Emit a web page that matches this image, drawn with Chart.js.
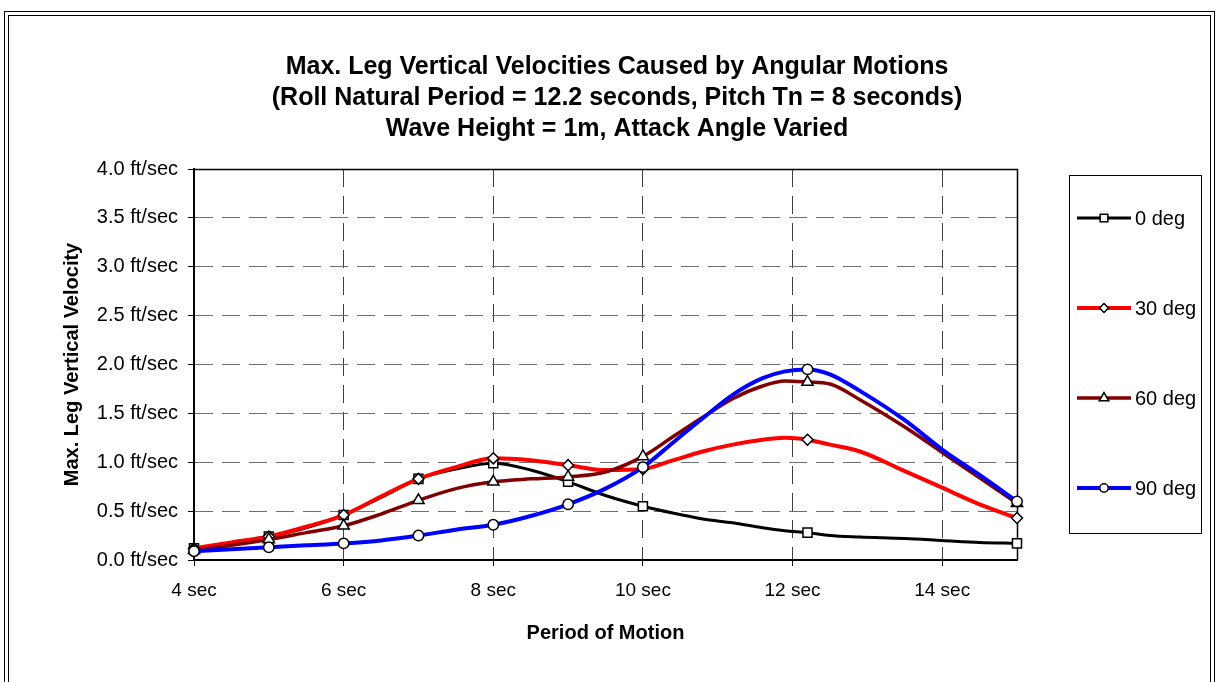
<!DOCTYPE html>
<html>
<head>
<meta charset="utf-8">
<title>Max. Leg Vertical Velocities</title>
<script src="https://cdn.jsdelivr.net/npm/chart.js@4.4.1/dist/chart.umd.min.js"></script>
<style>
  html, body { margin: 0; padding: 0; background: #fff; }
  #wrap { width: 1217px; height: 682px; }
</style>
</head>
<body>
<div id="wrap"><canvas id="velChart" width="1217" height="682"></canvas></div>
<script>
// Period of motion (sec) for every computed point, and the periods that carry a marker
const periods = [4, 4.5, 5, 5.5, 6, 6.5, 7, 7.5, 8, 8.5, 9, 9.5, 10, 10.4, 10.8, 11.2, 11.6, 11.9, 12.2, 12.5, 12.9, 13.5, 14, 14.5, 15];
const markerPeriods = [4, 5, 6, 7, 8, 9, 10, 12.2, 15];

const seriesNames = ['0 deg', '30 deg', '60 deg', '90 deg'];

// Max. leg vertical velocity (ft/sec) per attack angle
const vel0  = [0.12, 0.17, 0.24, 0.33, 0.46, 0.64, 0.83, 0.93, 0.99, 0.92, 0.80, 0.66, 0.55, 0.48, 0.42, 0.38, 0.33, 0.30, 0.28, 0.25, 0.235, 0.22, 0.20, 0.18, 0.17];
const vel30 = [0.12, 0.18, 0.24, 0.34, 0.46, 0.65, 0.83, 0.95, 1.04, 1.02, 0.97, 0.92, 0.93, 1.02, 1.11, 1.18, 1.23, 1.25, 1.23, 1.18, 1.11, 0.91, 0.74, 0.57, 0.43];
const vel60 = [0.10, 0.15, 0.21, 0.28, 0.35, 0.47, 0.61, 0.73, 0.80, 0.83, 0.85, 0.90, 1.06, 1.26, 1.46, 1.65, 1.78, 1.83, 1.82, 1.80, 1.64, 1.36, 1.10, 0.84, 0.58];
const vel90 = [0.09, 0.11, 0.13, 0.15, 0.17, 0.20, 0.25, 0.31, 0.36, 0.45, 0.57, 0.73, 0.95, 1.20, 1.45, 1.69, 1.86, 1.93, 1.95, 1.90, 1.73, 1.43, 1.13, 0.87, 0.60];

const yTicks = [0, 0.5, 1, 1.5, 2, 2.5, 3, 3.5, 4];

const titleLines = [
  'Max. Leg Vertical Velocities Caused by Angular Motions',
  '(Roll Natural Period = 12.2 seconds, Pitch Tn = 8 seconds)',
  'Wave Height = 1m, Attack Angle Varied'
];

const FONT = "'Liberation Sans', Arial, Helvetica, sans-serif";
Chart.defaults.font.family = FONT;
Chart.defaults.color = '#000';

const seriesStyle = [
  { color: '#000000', width: 3,   marker: 'rect',     radius: 6.4 },
  { color: '#ff0000', width: 4,   marker: 'rectRot',  radius: 5.5 },
  { color: '#800000', width: 3.5, marker: 'triangle', radius: 6.5 },
  { color: '#0000ff', width: 4,   marker: 'circle',   radius: 5.2 }
];

function makeDataset(name, values, idx) {
  const st = seriesStyle[idx];
  return {
    label: name,
    data: periods.map((p, i) => ({ x: p, y: values[i] })),
    borderColor: st.color,
    borderWidth: st.width,
    backgroundColor: '#fff',
    pointStyle: st.marker,
    pointBackgroundColor: '#fff',
    pointBorderColor: '#000',
    pointBorderWidth: 1.5,
    pointRadius: (ctx) => (ctx.raw && markerPeriods.includes(ctx.raw.x)) ? st.radius : 0,
    pointHoverRadius: 0,
    cubicInterpolationMode: 'monotone',
    clip: false,
    order: 4 - idx   // later angles are painted on top
  };
}

const datasets = [vel0, vel30, vel60, vel90].map((v, i) => makeDataset(seriesNames[i], v, i));

// white background, double outer frame, the title and the top/right edge of the plot area
const framePlugin = {
  id: 'frame',
  beforeDraw(chart) {
    const ctx = chart.ctx;
    ctx.save();
    ctx.fillStyle = '#fff';
    ctx.fillRect(0, 0, chart.width, chart.height);
    ctx.strokeStyle = '#000';
    ctx.lineWidth = 1;
    ctx.strokeRect(4.5, 11.5, 1210, 700);
    ctx.strokeRect(8.5, 15.5, 1202, 700);

    // title is centred on the whole chart, not on the plot area
    ctx.fillStyle = '#000';
    ctx.font = 'bold 25px ' + FONT;
    ctx.textAlign = 'center';
    ctx.textBaseline = 'middle';
    titleLines.forEach((line, i) => ctx.fillText(line, 617, 67 + i * 31));
    ctx.restore();
  },
  beforeDatasetsDraw(chart) {
    const { ctx, chartArea: a } = chart;
    ctx.save();
    ctx.strokeStyle = '#000';
    ctx.lineWidth = 1.5;
    ctx.beginPath();
    ctx.moveTo(a.left, a.top + 0.5);
    ctx.lineTo(a.right + 0.5, a.top + 0.5);
    ctx.lineTo(a.right + 0.5, a.bottom);
    ctx.stroke();
    ctx.restore();
  }
};

// boxed legend on the right: line sample with marker, then the label
const legendPlugin = {
  id: 'boxLegend',
  afterDraw(chart) {
    const ctx = chart.ctx;
    const box = { left: 1069.5, top: 175.5, right: 1201.5, bottom: 533.5 };
    const rowY = [218, 308, 398, 488];
    ctx.save();
    ctx.strokeStyle = '#000';
    ctx.lineWidth = 1;
    ctx.strokeRect(box.left, box.top, box.right - box.left, box.bottom - box.top);
    chart.data.datasets.forEach((ds, i) => {
      const st = seriesStyle[i];
      const y = rowY[i];
      ctx.strokeStyle = st.color;
      ctx.lineWidth = st.width;
      ctx.beginPath();
      ctx.moveTo(1077, y);
      ctx.lineTo(1131, y);
      ctx.stroke();
      ctx.fillStyle = '#fff';
      ctx.strokeStyle = '#000';
      ctx.lineWidth = 1.5;
      Chart.helpers.drawPoint(ctx, { pointStyle: st.marker, radius: st.radius - 1, rotation: 0, borderWidth: 1.5 }, 1104, y);
      ctx.fillStyle = '#000';
      ctx.font = '20px ' + FONT;
      ctx.textAlign = 'left';
      ctx.textBaseline = 'middle';
      ctx.fillText(ds.label, 1135, y + 1);
    });
    ctx.restore();
  }
};

new Chart(document.getElementById('velChart'), {
  type: 'line',
  data: { datasets },
  options: {
    responsive: false,
    animation: false,
    events: [],
    layout: { padding: { left: 0, right: 200, top: 169, bottom: 0 } },
    plugins: {
      legend: { display: false },
      tooltip: { enabled: false },
      title: { display: false }
    },
    scales: {
      x: {
        type: 'linear',
        min: 4,
        max: 15,
        afterFit: (scale) => { scale.height = 122; },
        ticks: {
          stepSize: 2,
          includeBounds: false,
          padding: 13,
          maxRotation: 0,
          font: { size: 19 },
          color: '#000',
          callback: (v) => v + ' sec'
        },
        grid: {
          color: '#404040',
          lineWidth: 1,
          tickLength: 6,
          tickColor: '#000',
          tickBorderDash: []
        },
        border: { color: '#000', width: 2, dash: [18, 9] },
        title: {
          display: true,
          text: 'Period of Motion',
          color: '#000',
          font: { size: 20, weight: 'bold' },
          padding: { top: 0, bottom: 37 }
        }
      },
      y: {
        min: 0,
        max: 4,
        afterFit: (scale) => { scale.width = 194; },
        afterBuildTicks: (scale) => { scale.ticks = yTicks.map(v => ({ value: v })); },
        ticks: {
          padding: 10,
          font: { size: 20 },
          color: '#000',
          callback: (v) => v.toFixed(1) + ' ft/sec'
        },
        grid: {
          color: '#707070',
          lineWidth: 1,
          tickLength: 6,
          tickColor: '#000',
          tickBorderDash: []
        },
        border: { color: '#000', width: 2, dash: [18, 9] },
        title: {
          display: true,
          text: 'Max. Leg Vertical Velocity',
          color: '#000',
          font: { size: 20, weight: 'bold' },
          padding: { top: 60, bottom: 0 }
        }
      }
    }
  },
  plugins: [framePlugin, legendPlugin]
});
</script>
</body>
</html>
